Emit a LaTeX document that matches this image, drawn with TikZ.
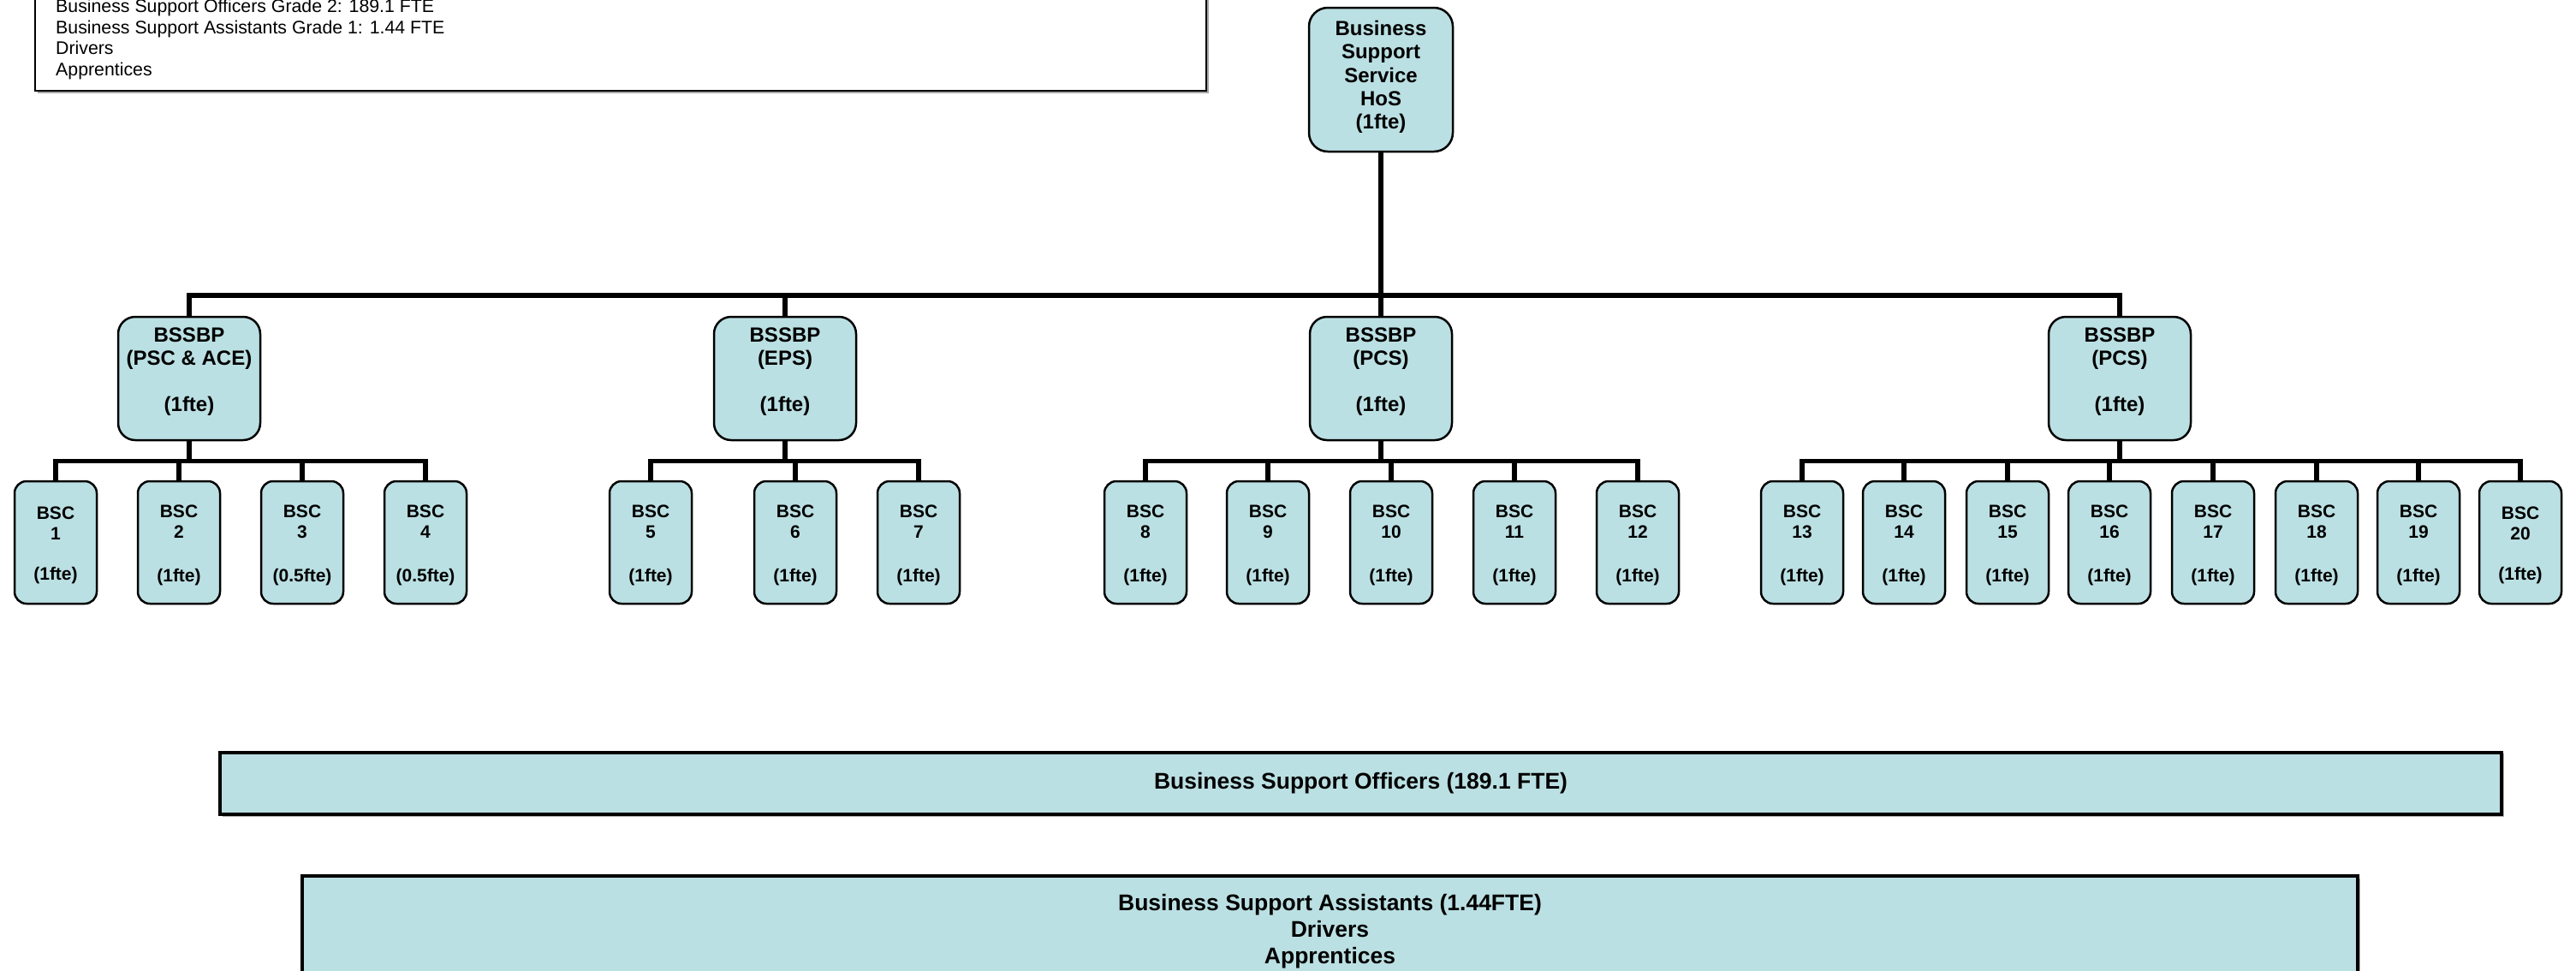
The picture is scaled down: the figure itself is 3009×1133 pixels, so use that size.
\documentclass[tikz,border=0pt]{standalone}
\usepackage{fontspec}
\setmainfont{Liberation Sans}
\definecolor{boxfill}{HTML}{BBE0E3}
\newcommand{\dnstrut}[1]{\rule[-#1]{0pt}{#1}}
\newcommand{\upstrut}[1]{\rule{0pt}{#1}}
\begin{document}
\begin{tikzpicture}[x=1pt,y=-1pt,
  conn/.style={line width=5.5pt, line join=miter},
  hosbox/.style={draw, line width=2.5pt, fill=boxfill, rounded corners=22pt,
    minimum width=168pt, minimum height=168pt, align=center, inner sep=0pt,
    font=\bfseries\fontsize{24}{27.3}\selectfont},
  bpbox/.style={draw, line width=2.5pt, fill=boxfill, rounded corners=20pt,
    minimum width=166pt, minimum height=144pt, align=center, inner sep=0pt,
    font=\bfseries\fontsize{24}{27}\selectfont},
  bscbox/.style={draw, line width=2.5pt, fill=boxfill, rounded corners=14pt,
    minimum width=96pt, minimum height=143pt, align=center, inner sep=0pt,
    font=\bfseries\fontsize{21}{24.5}\selectfont},
  barbox/.style={draw, line width=3.5pt, fill=boxfill, align=center, inner sep=0pt,
    font=\bfseries\fontsize{26.5}{31}\selectfont},
  legendbox/.style={draw, line width=2.5pt, fill=white, inner sep=0pt}
]
\useasboundingbox (0,0) rectangle (3009,1133);
\clip (0,0) rectangle (3009,1133);

% legend box (top cut off)
\fill[gray!70] (44,-10) rectangle (1412,109);
\node[legendbox, minimum width=1368pt, minimum height=116pt] (legend) at (725,48) {};
\node[anchor=west, align=left, inner sep=0pt, font=\fontsize{21.3}{24.8}\selectfont] (legendtext) at (65,46)
  {Business Support Officers Grade 2: 189.1 FTE\\
   Business Support Assistants Grade 1: 1.44 FTE\\
   Drivers\\
   Apprentices};

% head of service
\node[hosbox] (hos) at (1613,93) {Business\\Support\\Service\\HoS\\(1fte)\dnstrut{11pt}};

% BSSBP level
\node[bpbox] (p1) at (221,442) {BSSBP\\(PSC \& ACE)\\[27pt](1fte)\dnstrut{21pt}};
\node[bpbox] (p2) at (917,442) {BSSBP\\(EPS)\\[27pt](1fte)\dnstrut{21pt}};
\node[bpbox] (p3) at (1613,442) {BSSBP\\(PCS)\\[27pt](1fte)\dnstrut{21pt}};
\node[bpbox] (p4) at (2476,442) {BSSBP\\(PCS)\\[27pt](1fte)\dnstrut{21pt}};

% BSC level
\node[bscbox] (c1) at (65,633.5) {\upstrut{21pt}BSC\\1\\[22pt](1fte)};
\node[bscbox] (c2) at (209,633.5) {\upstrut{21pt}BSC\\2\\[26pt](1fte)};
\node[bscbox] (c3) at (353,633.5) {\upstrut{21pt}BSC\\3\\[26pt](0.5fte)};
\node[bscbox] (c4) at (497,633.5) {\upstrut{21pt}BSC\\4\\[26pt](0.5fte)};
\node[bscbox] (c5) at (760,633.5) {\upstrut{21pt}BSC\\5\\[26pt](1fte)};
\node[bscbox] (c6) at (929,633.5) {\upstrut{21pt}BSC\\6\\[26pt](1fte)};
\node[bscbox] (c7) at (1073,633.5) {\upstrut{21pt}BSC\\7\\[26pt](1fte)};
\node[bscbox] (c8) at (1338,633.5) {\upstrut{21pt}BSC\\8\\[26pt](1fte)};
\node[bscbox] (c9) at (1481,633.5) {\upstrut{21pt}BSC\\9\\[26pt](1fte)};
\node[bscbox] (c10) at (1625,633.5) {\upstrut{21pt}BSC\\10\\[26pt](1fte)};
\node[bscbox] (c11) at (1769,633.5) {\upstrut{21pt}BSC\\11\\[26pt](1fte)};
\node[bscbox] (c12) at (1913,633.5) {\upstrut{21pt}BSC\\12\\[26pt](1fte)};
\node[bscbox] (c13) at (2105,633.5) {\upstrut{21pt}BSC\\13\\[26pt](1fte)};
\node[bscbox] (c14) at (2224,633.5) {\upstrut{21pt}BSC\\14\\[26pt](1fte)};
\node[bscbox] (c15) at (2345,633.5) {\upstrut{21pt}BSC\\15\\[26pt](1fte)};
\node[bscbox] (c16) at (2464,633.5) {\upstrut{21pt}BSC\\16\\[26pt](1fte)};
\node[bscbox] (c17) at (2585,633.5) {\upstrut{21pt}BSC\\17\\[26pt](1fte)};
\node[bscbox] (c18) at (2706,633.5) {\upstrut{21pt}BSC\\18\\[26pt](1fte)};
\node[bscbox] (c19) at (2825,633.5) {\upstrut{21pt}BSC\\19\\[26pt](1fte)};
\node[bscbox] (c20) at (2944,633.5) {\upstrut{21pt}BSC\\20\\[22pt](1fte)};

% bars
\fill[gray!60] (260,880) rectangle (2925,954);
\node[barbox, minimum width=2665pt, minimum height=72pt] (bso) at (1589.5,915)
  {Business Support Officers (189.1 FTE)};
\fill[gray!60] (356,1026) rectangle (2757,1160);
\node[barbox, minimum width=2401pt, minimum height=130pt] (bsa) at (1553.5,1088)
  {Business Support Assistants (1.44FTE)\\Drivers\\Apprentices};

% connectors: top level
\coordinate (bus) at (1613,345);
\draw[conn] (hos.south) -- (p3.north);
\draw[conn] (p1.north) |- (bus) -| (p4.north);
\draw[conn] (p2.north) -- (p2.north |- bus);

% connectors: group 1
\path (p1.south) ++(0,23) coordinate (s1);
\draw[conn] (p1.south) -- (s1);
\draw[conn] (c1.north) |- (s1) -| (c4.north);
\foreach \c in {c2,c3} \draw[conn] (\c.north) -- (\c.north |- s1);

% group 2
\path (p2.south) ++(0,23) coordinate (s2);
\draw[conn] (p2.south) -- (s2);
\draw[conn] (c5.north) |- (s2) -| (c7.north);
\draw[conn] (c6.north) -- (c6.north |- s2);

% group 3
\path (p3.south) ++(0,23) coordinate (s3);
\draw[conn] (p3.south) -- (s3);
\draw[conn] (c8.north) |- (s3) -| (c12.north);
\foreach \c in {c9,c10,c11} \draw[conn] (\c.north) -- (\c.north |- s3);

% group 4
\path (p4.south) ++(0,23) coordinate (s4);
\draw[conn] (p4.south) -- (s4);
\draw[conn] (c13.north) |- (s4) -| (c20.north);
\foreach \c in {c14,c15,c16,c17,c18,c19} \draw[conn] (\c.north) -- (\c.north |- s4);
\end{tikzpicture}
\end{document}
